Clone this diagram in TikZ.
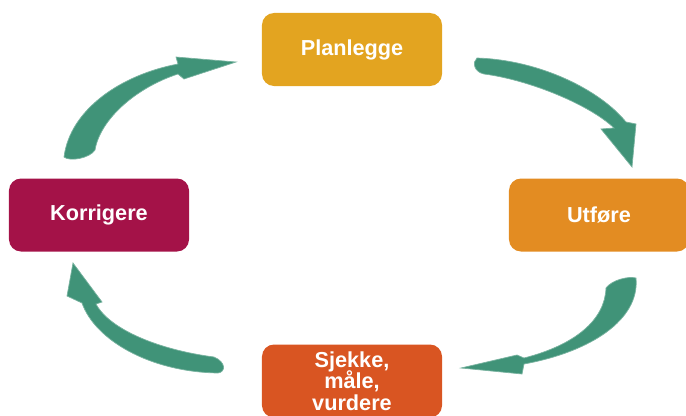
\documentclass[tikz,border=0pt]{standalone}
\usepackage{fontspec}
\setmainfont{Liberation Sans}
\usetikzlibrary{positioning}

\definecolor{plancol}{RGB}{227,164,32}
\definecolor{utfcol}{RGB}{227,140,34}
\definecolor{sjekcol}{RGB}{217,85,34}
\definecolor{korrcol}{RGB}{164,18,72}
\definecolor{pilcol}{RGB}{64,147,120}

\begin{document}
\begin{tikzpicture}[x=0.03cm, y=-0.03cm]
    \tikzstyle{fase} = [rounded corners=0.36cm, minimum width=5.4cm,
	minimum height=2.19cm, inner sep=0pt, align=center, text=white,
	font={\fontsize{18.5}{18.3}\selectfont\bfseries\lineskiplimit -20pt\relax}]
    \tikzstyle{pil} = [fill=pilcol, draw=pilcol!70, line width=0.6pt]

    \useasboundingbox (0,0) rectangle (686,416);

		\path
			node[fase, fill=plancol] (plan) at (352,49.5) {Planlegge}
			node[fase, fill=utfcol] (utf) at (599,215) {Utføre}
			node[fase, fill=sjekcol] (sjekk) at (352,381) {Sjekke,\\måle,\\vurdere}
			node[fase, fill=korrcol] (korr) at (99,215) {Korrigere}
		;

		\coordinate (plan-utf) at (632,167);
		\coordinate (utf-sjekk) at (461,368);
		\coordinate (sjekk-korr) at (73,263);
		\coordinate (korr-plan) at (236,62);

		\fill[pil] (477,58) .. controls (540,60) and (600,90) .. (626,122)
			-- (636,124) -- (plan-utf) -- (601,129) -- (614,128)
			.. controls (590,105) and (530,80) .. (484,74)
			.. controls (474,72) and (472,62) .. (477,58) -- cycle;
		\fill[pil] (636,278) .. controls (640,320) and (590,352) .. (524,364)
			-- (522,374) -- (utf-sjekk) -- (517,355) -- (524,358)
			.. controls (575,345) and (605,320) .. (606,288)
			.. controls (612,280) and (628,276) .. (636,278) -- cycle;
		\fill[pil] (214,357) .. controls (160,350) and (110,330) .. (96,304)
			-- (102,302) -- (sjekk-korr) -- (67,296) -- (82,303)
			.. controls (95,340) and (150,372) .. (218,373)
			.. controls (226,372) and (226,362) .. (214,357) -- cycle;
		\fill[pil] (64,157) .. controls (70,110) and (120,75) .. (178,64)
			-- (176,57) -- (korr-plan) -- (184,79) -- (178,74)
			.. controls (135,88) and (100,120) .. (95,150)
			.. controls (90,158) and (70,162) .. (64,157) -- cycle;

\end{tikzpicture}
\end{document}
